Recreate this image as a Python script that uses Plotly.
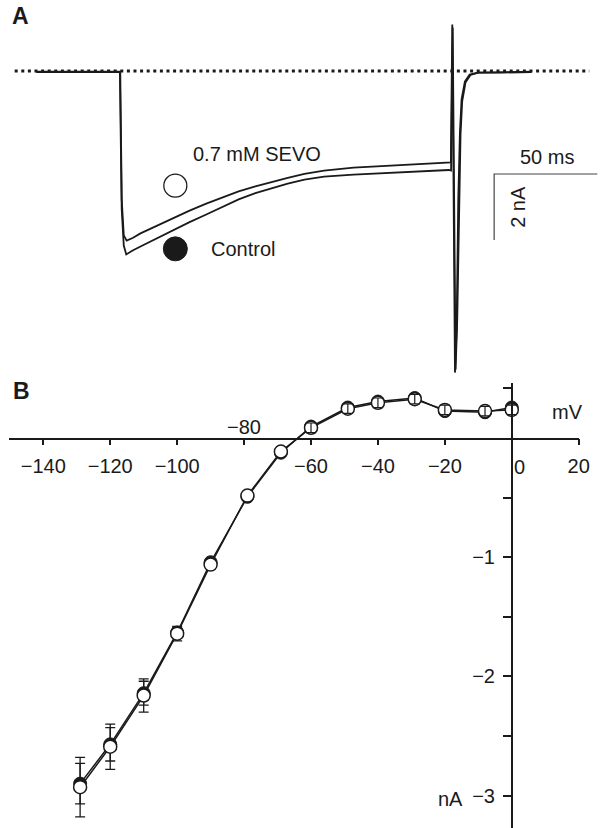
import plotly.graph_objects as go

# ---------------- Panel A: current traces (time in ms, current in nA) ----------------
sevo_t = [10, 50.7, 51.4, 52.4, 53.8, 56.7, 60.5, 68.6, 76.7, 84.3,
          92.4, 100.5, 108.1, 116.2, 124.3, 131.9, 140.0, 149.5, 163.8, 182.9,
          197.1, 210.0, 211.0, 211.7, 212.4, 213.0, 213.8, 214.6, 215.4, 216.2,
          217.8, 220.1, 224.1, 235.2, 250.3]
sevo_i = [-0.02, -0.02, -3.89, -4.98, -5.14, -5.06, -4.92, -4.68, -4.44, -4.23,
          -4.02, -3.82, -3.65, -3.50, -3.36, -3.24, -3.12, -3.02, -2.93, -2.86,
          -2.81, -2.77, -2.77, 1.41, -3.89, -9.14, -7.83, -3.89, -1.86, -0.86,
          -0.32, -0.11, -0.05, -0.03, -0.02]

ctrl_t = [10, 50.5, 51.4, 52.4, 53.6, 56.7, 60.5, 68.6, 76.7, 84.3,
          92.4, 100.5, 108.1, 116.2, 124.3, 131.9, 140.0, 149.5, 163.8, 182.9,
          197.1, 210.0, 211.1, 211.9, 212.6, 213.3, 214.1, 214.9, 215.7, 216.5,
          218.1, 220.5, 224.3, 235.2, 250.0]
ctrl_i = [-0.03, -0.03, -4.20, -5.29, -5.56, -5.44, -5.32, -5.06, -4.80, -4.58,
          -4.35, -4.11, -3.89, -3.70, -3.54, -3.41, -3.29, -3.20, -3.14, -3.08,
          -3.03, -3.00, -3.02, 1.32, -3.89, -9.05, -7.53, -4.05, -1.92, -0.92,
          -0.35, -0.12, -0.05, -0.05, -0.03]

baseline_t = [-0.5, 278.1]
baseline_i = [0.0, 0.0]

scale_time_ms = 50
scale_current_nA = 2

# ---------------- Panel B: I-V relation ----------------
volt = [-129, -120, -110, -100, -90, -79, -69, -60, -49, -40, -29, -20, -8, 0]
sevo_amp = [-2.93, -2.59, -2.16, -1.64, -1.06, -0.48, -0.11, 0.09, 0.25, 0.30, 0.33, 0.24, 0.23, 0.24]
sevo_err = [0.25, 0.19, 0.14, 0.06, 0.03, 0.03, 0.03, 0.04, 0.04, 0.04, 0.04, 0.04, 0.04, 0.04]
ctrl_amp = [-2.90, -2.57, -2.14, -1.63, -1.04, -0.49, -0.12, 0.10, 0.26, 0.31, 0.34, 0.23, 0.22, 0.26]
ctrl_err = [0.17, 0.14, 0.10, 0.04, 0.03, 0.03, 0.03, 0.03, 0.03, 0.03, 0.03, 0.03, 0.03, 0.03]

x_tickvals = [-140, -120, -100, -80, -60, -40, -20, 0, 20]
x_ticktext = ["\u2212140", "\u2212120", "\u2212100", "", "\u221260", "\u221240", "\u221220", "", "20"]
y_tickvals = [-3, -2.5, -2, -1.5, -1, -0.5, 0.42]
y_ticktext = ["\u22123", "", "\u22122", "", "\u22121", "", ""]

INK = "#1a1a1a"
FONT = "Liberation Sans, Arial, sans-serif"
W, H = 612, 828

fig = go.Figure()

# Panel A
fig.add_trace(go.Scatter(x=baseline_t, y=baseline_i, mode="lines",
                         line=dict(color=INK, width=3, dash="3px,3.6px"),
                         xaxis="x", yaxis="y", hoverinfo="skip"))
fig.add_trace(go.Scatter(x=ctrl_t, y=ctrl_i, mode="lines",
                         line=dict(color=INK, width=1.8), xaxis="x", yaxis="y", name="Control"))
fig.add_trace(go.Scatter(x=sevo_t, y=sevo_i, mode="lines",
                         line=dict(color=INK, width=1.8), xaxis="x", yaxis="y", name="0.7 mM SEVO"))

# legend symbols for panel A
leg_t = 77.4
fig.add_trace(go.Scatter(x=[leg_t], y=[-3.476], mode="markers",
                         marker=dict(size=23, color="white", line=dict(color=INK, width=1.3)),
                         xaxis="x", yaxis="y"))
fig.add_trace(go.Scatter(x=[leg_t], y=[-5.39], mode="markers",
                         marker=dict(size=24, color=INK, line=dict(color=INK, width=1)),
                         xaxis="x", yaxis="y"))

# scale bars
sb_t0, sb_i0 = 232.0, -3.121
fig.add_trace(go.Scatter(x=[sb_t0 + scale_time_ms, sb_t0, sb_t0],
                         y=[sb_i0, sb_i0, sb_i0 - scale_current_nA],
                         mode="lines", line=dict(color="#444444", width=1.2),
                         xaxis="x", yaxis="y"))

# Panel B
fig.add_trace(go.Scatter(x=volt, y=ctrl_amp, mode="lines+markers",
                         line=dict(color=INK, width=1.5),
                         marker=dict(size=13, color=INK, line=dict(color=INK, width=1)),
                         error_y=dict(type="data", array=ctrl_err, color=INK, thickness=1.3, width=5),
                         xaxis="x2", yaxis="y2", name="Control"))
fig.add_trace(go.Scatter(x=volt, y=sevo_amp, mode="lines+markers",
                         line=dict(color=INK, width=1.5),
                         marker=dict(size=13, color="white", line=dict(color=INK, width=1.5)),
                         error_y=dict(type="data", array=sevo_err, color=INK, thickness=1.3, width=5),
                         xaxis="x2", yaxis="y2", name="0.7 mM SEVO"))
k = volt.index(-60)
fig.add_trace(go.Scatter(x=volt[k:], y=sevo_amp[k:], mode="markers",
                         marker=dict(size=1, color="rgba(0,0,0,0)"),
                         error_y=dict(type="data", array=sevo_err[k:], color=INK, thickness=1.2, width=4),
                         xaxis="x2", yaxis="y2", hoverinfo="skip"))

tf = dict(family=FONT, size=20, color=INK)

fig.update_layout(
    width=W, height=H, margin=dict(l=0, r=0, t=0, b=0),
    paper_bgcolor="white", plot_bgcolor="rgba(0,0,0,0)",
    showlegend=False, font=tf,
    xaxis=dict(domain=[0, 1], range=[-7.619, 283.81], visible=False, fixedrange=True),
    yaxis=dict(domain=[1 - 380 / H, 1], range=[-9.364, 2.1515], visible=False, fixedrange=True),
    xaxis2=dict(domain=[9 / W, 589.3 / W], range=[-150.3, 20], anchor="free", position=1 - 438.5 / H,
                showline=True, linecolor=INK, linewidth=1.5, ticks="outside", ticklen=6,
                tickwidth=1.5, tickcolor=INK, tickvals=x_tickvals, ticktext=x_ticktext,
                tickfont=tf, showgrid=False, zeroline=False, ticklabelstandoff=4, fixedrange=True),
    yaxis2=dict(domain=[0, 1 - 383 / H], range=[-3.273, 0.466], anchor="free", position=521.1 / W,
                showline=True, linecolor=INK, linewidth=1.5, ticks="outside", ticklen=8,
                tickwidth=1.5, tickcolor=INK, tickvals=y_tickvals, ticktext=y_ticktext,
                tickfont=tf, showgrid=False, zeroline=False, ticklabelstandoff=4, fixedrange=True),
)

ann = [
    dict(text="<b>A</b>", xref="paper", yref="paper", x=21 / W, y=1 - 16 / H, font=dict(family=FONT, size=23, color=INK)),
    dict(text="<b>B</b>", xref="paper", yref="paper", x=21.5 / W, y=1 - 391 / H, font=dict(family=FONT, size=23, color=INK)),
    dict(text="0.7 mM SEVO", xref="x", yref="y", x=85.2, y=-2.515, xanchor="left"),
    dict(text="Control", xref="x", yref="y", x=93.7, y=-5.40, xanchor="left"),
    dict(text="50 ms", xref="x", yref="y", x=257.5, y=-2.597),
    dict(text="2 nA", xref="x", yref="y", x=243.2, y=-4.11, textangle=-90),
    dict(text="\u221280", xref="x2", yref="y2", x=-80, y=0.099),
    dict(text="0", xref="x2", yref="y2", x=2.3, y=-0.237),
    dict(text="mV", xref="x2", yref="y2", x=16.7, y=0.225),
    dict(text="nA", xref="x2", yref="y2", x=-18.2, y=-3.03),
]
for a in ann:
    a.setdefault("showarrow", False)
    a.setdefault("font", tf)
    a.setdefault("xanchor", "center")
    a.setdefault("yanchor", "middle")
    fig.add_annotation(**a)

fig.write_html("out.html")
